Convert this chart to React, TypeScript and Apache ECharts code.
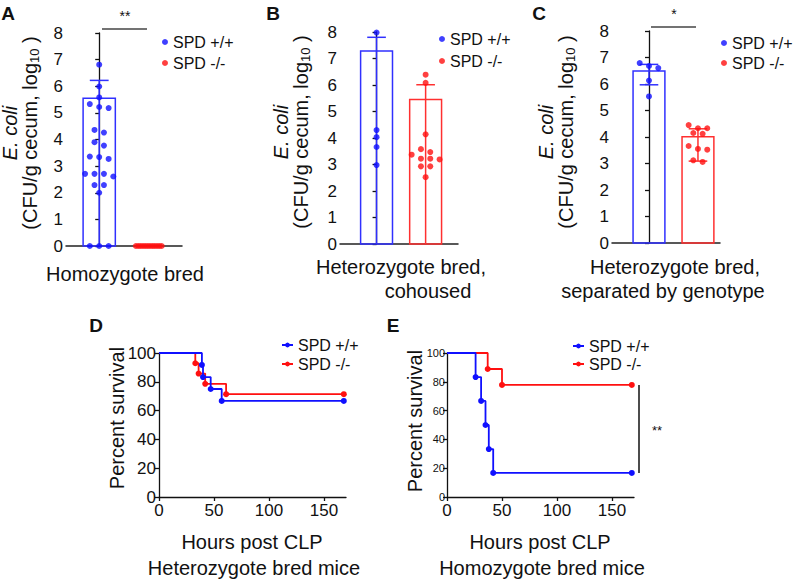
import React, { useEffect, useRef } from 'react';
import * as echarts from 'echarts';

const FONT = 'Liberation Sans, Arial, Helvetica, sans-serif';
const BLUE = '#1010ff';
const RED = '#ff1010';
const BLUE_BAR = '#3030ff';
const RED_BAR = '#ff3030';
const INK = '#111111';

// ---------- Panel A: Homozygote bred ----------
const aWT = [6.81, 5.99, 5.58, 5.33, 5.22, 5.18, 4.36, 4.26, 3.9, 3.77, 3.36, 3.34, 3.27, 2.71, 2.71, 2.71, 2.61, 2.29, 2.29, 2.0, 0, 0, 0];
const aKO = [0, 0, 0, 0, 0, 0, 0, 0, 0, 0, 0, 0];
const aMeans = [5.55, 0];
const aErrLow = [0, 0];
const aErrHigh = [6.22, 0];

// ---------- Panel B: Heterozygote bred, cohoused ----------
const bWT = [7.98, 4.3, 4.03, 3.66, 2.98];
const bKO = [6.39, 6.08, 4.14, 3.58, 3.47, 3.37, 3.22, 3.22, 3.19, 2.93, 2.93, 2.52];
const bMeans = [7.28, 5.45];
const bErrLow = [0, 0];
const bErrHigh = [7.8, 6.01];

// ---------- Panel C: Heterozygote bred, separated ----------
const cWT = [6.79, 6.68, 6.6, 6.13, 5.53];
const cKO = [4.45, 4.33, 4.33, 4.15, 4.12, 3.66, 3.55, 3.52, 3.12, 3.06];
const cMeans = [6.49, 4.01];
const cErrLow = [5.97, 3.09];
const cErrHigh = [6.74, 4.31];

const yTicksBar = [0, 8];

// ---------- Panel D: survival, heterozygote bred ----------
const dTimesWT = [0, 39, 40, 47, 57, 168];
const dSurvWT = [100, 91.7, 83.3, 75.0, 66.7, 66.7];
const dTimesKO = [0, 33, 36, 42, 61, 168];
const dSurvKO = [100, 92.9, 85.7, 78.6, 71.4, 71.4];

// ---------- Panel E: survival, homozygote bred ----------
const eTimesWT = [0, 26, 31, 35, 38, 42, 168];
const eSurvWT = [100, 83.3, 66.7, 50.0, 33.3, 16.7, 16.7];
const eTimesKO = [0, 37, 50, 168];
const eSurvKO = [100, 88.9, 77.8, 77.8];

const LEG_WT = 'SPD +/+';
const LEG_KO = 'SPD -/-';

const BAR_W = 0.65;
const CAP_W = 0.38;
const STEP = 0.19;

function swarm(values: number[], center: number, maxHalf: number) {
  const sorted = [...values].sort((a, b) => b - a);
  const rows: number[][] = [];
  for (const v of sorted) {
    const last = rows[rows.length - 1];
    if (last && last[0] - v <= 0.2) last.push(v);
    else rows.push([v]);
  }
  const pts: number[][] = [];
  for (const row of rows) {
    const n = row.length;
    let s = STEP;
    if (n > 1 && ((n - 1) / 2) * s > maxHalf) s = (maxHalf * 2) / (n - 1);
    row.forEach((v, i) => pts.push([center + (i - (n - 1) / 2) * s, v]));
  }
  return pts;
}

function barSeries(idx: number, means: number[]) {
  return {
    type: 'custom',
    xAxisIndex: idx,
    yAxisIndex: idx,
    silent: true,
    z: 1,
    dimensions: ['x', 'y'],
    encode: { x: 0, y: 1 },
    data: means.map((m, i) => [i, m]),
    renderItem: (_p: any, api: any) => {
      const i = api.value(0);
      const m = api.value(1);
      if (m <= 0) return { type: 'group', children: [] };
      const tl = api.coord([i - BAR_W / 2, m]);
      const br = api.coord([i + BAR_W / 2, 0]);
      return {
        type: 'rect',
        shape: { x: tl[0], y: tl[1], width: br[0] - tl[0], height: br[1] - tl[1] },
        style: { fill: 'none', stroke: i === 0 ? BLUE_BAR : RED_BAR, lineWidth: 1.5 },
      };
    },
  };
}

function errSeries(idx: number, lows: number[], highs: number[]) {
  return {
    type: 'custom',
    xAxisIndex: idx,
    yAxisIndex: idx,
    silent: true,
    z: 2,
    dimensions: ['x', 'lo', 'hi'],
    encode: { x: 0, y: [1, 2] },
    data: lows.map((l, i) => [i, l, highs[i]]),
    renderItem: (_p: any, api: any) => {
      const i = api.value(0);
      const lo = api.value(1);
      const hi = api.value(2);
      const color = i === 0 ? BLUE_BAR : RED_BAR;
      if (hi <= 0) return { type: 'group', children: [] };
      const a = api.coord([i, lo]);
      const b = api.coord([i, hi]);
      const c1 = api.coord([i - CAP_W / 2, hi]);
      const c2 = api.coord([i + CAP_W / 2, hi]);
      const children: any[] = [
        { type: 'line', shape: { x1: a[0], y1: a[1], x2: b[0], y2: b[1] }, style: { stroke: color, lineWidth: 1.5 } },
        { type: 'line', shape: { x1: c1[0], y1: c1[1], x2: c2[0], y2: c2[1] }, style: { stroke: color, lineWidth: 1.5 } },
      ];
      if (lo > 0) {
        const d1 = api.coord([i - CAP_W / 2, lo]);
        const d2 = api.coord([i + CAP_W / 2, lo]);
        children.push({ type: 'line', shape: { x1: d1[0], y1: d1[1], x2: d2[0], y2: d2[1] }, style: { stroke: color, lineWidth: 1.5 } });
      }
      return { type: 'group', children };
    },
  };
}

function dots(idx: number, name: string, values: number[], center: number, color: string, maxHalf: number) {
  return {
    type: 'scatter',
    name,
    xAxisIndex: idx,
    yAxisIndex: idx,
    symbol: 'circle',
    symbolSize: 6,
    z: 3,
    itemStyle: { color },
    data: swarm(values, center, maxHalf),
  };
}

function km(idx: number, name: string, times: number[], surv: number[], color: string) {
  return {
    type: 'line',
    name,
    xAxisIndex: idx,
    yAxisIndex: idx,
    step: 'end',
    symbol: 'circle',
    symbolSize: 6,
    lineStyle: { color, width: 1.8 },
    itemStyle: { color },
    data: times.map((t, i) => (i === 0 ? { value: [t, surv[i]], symbol: 'none' } : { value: [t, surv[i]] })),
  };
}

const catX = (gi: number, min: number, max: number) => ({
  gridIndex: gi,
  type: 'value',
  min,
  max,
  axisLine: { show: true, onZero: false, lineStyle: { color: '#222', width: 1.5 } },
  axisTick: { show: false },
  axisLabel: { show: false },
  splitLine: { show: false },
});

const valY = (gi: number, max: number, interval: number, fontSize: number, margin: number) => ({
  gridIndex: gi,
  type: 'value',
  min: 0,
  max,
  interval,
  axisLine: { show: true, lineStyle: { color: INK, width: 1.3 } },
  axisTick: { show: true, length: 4, lineStyle: { color: INK, width: 1.3 } },
  axisLabel: { fontSize, color: INK, fontFamily: FONT, margin },
  splitLine: { show: false },
});

const timeX = (gi: number) => ({
  gridIndex: gi,
  type: 'value',
  min: 0,
  max: 170,
  interval: 50,
  axisLine: { show: true, onZero: false, lineStyle: { color: INK, width: 1.3 } },
  axisTick: { show: true, length: 4, lineStyle: { color: INK, width: 1.3 } },
  axisLabel: { fontSize: 17, color: INK, fontFamily: FONT, margin: 5 },
  splitLine: { show: false },
});

const legendBase = (left: number, top: number, gap: number, iw: number, ih: number, names: string[], fmt?: (n: string) => string) => ({
  data: names,
  orient: 'vertical',
  left,
  top,
  padding: 0,
  itemGap: gap,
  itemWidth: iw,
  itemHeight: ih,
  selectedMode: false,
  textStyle: { fontSize: 16, lineHeight: 16, color: INK, fontFamily: FONT },
  ...(fmt ? { formatter: fmt } : {}),
});

const text = (x: number, y: number, t: string, size: number, extra: any = {}, rot = 0) => ({
  type: 'text',
  x,
  y,
  rotation: rot,
  silent: true,
  style: { text: t, fontSize: size, fontFamily: FONT, fill: INK, align: 'center', verticalAlign: 'middle', ...extra },
});

const line = (x1: number, y1: number, x2: number, y2: number, color = '#444') => ({
  type: 'line',
  silent: true,
  shape: { x1, y1, x2, y2 },
  style: { stroke: color, lineWidth: 1.5 },
});

const ylabelRich = {
  i: { fontStyle: 'italic', fontSize: 20, fontFamily: FONT, lineHeight: 20, fill: INK },
  s: { fontSize: 13, fontFamily: FONT, lineHeight: 13, padding: [9, 0, 0, 0], fill: INK },
};
const ylabel = (x: number, y: number) =>
  text(x, y, '{i|E. coli}\n(CFU/g cecum, log{s|10} )', 20, { rich: ylabelRich, lineHeight: 20 }, Math.PI / 2);

export default function App() {
  const ref = useRef<HTMLDivElement>(null);
  useEffect(() => {
    if (!ref.current) return;
    const chart = echarts.init(ref.current, undefined, { renderer: 'svg' });
    const kmFmt = (n: string) => n.replace('KM', 'SPD');
    const option: any = {
      animation: false,
      backgroundColor: '#ffffff',
      textStyle: { fontFamily: FONT },
      grid: [
        { left: 66, top: 33, width: 116, height: 213 },
        { left: 340, top: 32, width: 118, height: 212 },
        { left: 612, top: 31, width: 108, height: 212 },
        { left: 159, top: 353, width: 187, height: 144 },
        { left: 447, top: 353, width: 187, height: 144 },
      ],
      xAxis: [catX(0, -0.67, 1.67), catX(1, -0.745, 1.66), catX(2, -0.755, 1.45), timeX(3), timeX(4)],
      yAxis: [
        valY(0, yTicksBar[1], 1, 17, 3),
        valY(1, yTicksBar[1], 1, 17, 3),
        valY(2, yTicksBar[1], 1, 17, 3),
        valY(3, 100, 20, 17, 3),
        valY(4, 100, 20, 11, 2),
      ],
      legend: [
        legendBase(162, 34, 5, 6, 6, [LEG_WT, LEG_KO]),
        legendBase(439, 31, 6, 6, 6, [LEG_WT, LEG_KO]),
        legendBase(721, 35, 4, 6, 6, [LEG_WT, LEG_KO]),
        legendBase(281, 337, 3, 11, 6, ['KM +/+', 'KM -/-'], kmFmt),
        legendBase(572, 338, 2, 11, 6, ['KM +/+', 'KM -/-'], kmFmt),
      ],
      series: [
        barSeries(0, aMeans),
        errSeries(0, aErrLow, aErrHigh),
        dots(0, LEG_WT, aWT, 0, BLUE, 0.3),
        dots(0, LEG_KO, aKO, 1, RED, 0.26),
        barSeries(1, bMeans),
        errSeries(1, bErrLow, bErrHigh),
        dots(1, LEG_WT, bWT, 0, BLUE, 0.3),
        dots(1, LEG_KO, bKO, 1, RED, 0.3),
        barSeries(2, cMeans),
        errSeries(2, cErrLow, cErrHigh),
        dots(2, LEG_WT, cWT, 0, BLUE, 0.3),
        dots(2, LEG_KO, cKO, 1, RED, 0.3),
        km(3, 'KM -/-', dTimesKO, dSurvKO, RED),
        km(3, 'KM +/+', dTimesWT, dSurvWT, BLUE),
        km(4, 'KM -/-', eTimesKO, eSurvKO, RED),
        km(4, 'KM +/+', eTimesWT, eSurvWT, BLUE),
      ],
      graphic: [
        text(8, 13, 'A', 19, { fontWeight: 'bold' }),
        text(273, 13, 'B', 19, { fontWeight: 'bold' }),
        text(539, 13, 'C', 19, { fontWeight: 'bold' }),
        text(96, 325, 'D', 19, { fontWeight: 'bold' }),
        text(393, 325, 'E', 19, { fontWeight: 'bold' }),
        ylabel(19.5, 133),
        ylabel(290.5, 132),
        ylabel(555.5, 132),
        text(125, 274, 'Homozygote bred', 20),
        text(401, 267, 'Heterozygote bred,', 20),
        text(428, 291, 'cohoused', 20),
        text(675, 267, 'Heterozygote bred,', 20),
        text(663, 291, 'separated by genotype', 20),
        line(102, 29, 147, 29),
        text(125, 16, '**', 14),
        line(651, 27, 696, 27),
        text(674, 14, '*', 14),
        text(117, 418, 'Percent survival', 20, {}, Math.PI / 2),
        text(252, 542, 'Hours post CLP', 20),
        text(254, 568, 'Heterozygote bred mice', 20),
        text(415, 421, 'Percent survival', 20, {}, Math.PI / 2),
        text(540, 542, 'Hours post CLP', 20),
        text(542, 568, 'Homozygote bred mice', 20),
        line(639, 385, 639, 473, INK),
        text(657, 430, '**', 13),
      ],
    };
    chart.setOption(option);
    return () => chart.dispose();
  }, []);
  return <div ref={ref} style={{ position: 'fixed', left: 0, top: 0, width: 800, height: 580 }} />;
}
